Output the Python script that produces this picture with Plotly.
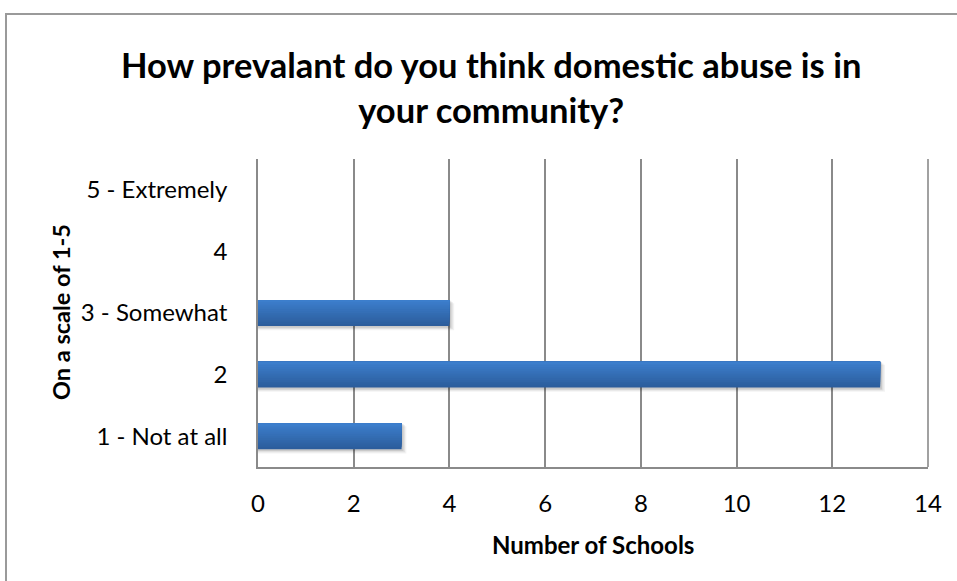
import plotly.graph_objects as go

# Survey responses: how prevalent domestic abuse is perceived to be
categories = ["1 - Not at all", "2", "3 - Somewhat", "4", "5 - Extremely"]
schools = [3, 13, 4, 0, 0]
x_ticks = [0, 2, 4, 6, 8, 10, 12, 14]

W, H = 957, 581
L, R, T, B = 258, 928, 159, 467  # plot area in pixels


def px(x):
    return (x - L) / (R - L)


def py(y):
    return (B - y) / (B - T)


FONT = "Lato"
GRID = "#8a8a8a"

fig = go.Figure()

# soft drop shadow under each bar
bar_w = 0.42
for k, a in enumerate([0.05, 0.07, 0.10]):
    grow = 0.10 - k * 0.03
    fig.add_trace(go.Bar(
        y=categories, x=[v + grow if v else 0 for v in schools], orientation="h",
        width=bar_w + 0.02, offset=-bar_w / 2 - 0.07 + k * 0.02,
        marker=dict(color=f"rgba(0,0,0,{a})", line=dict(width=0)),
        hoverinfo="skip", showlegend=False,
    ))

# bar body: stacked overlapping layers, lighter towards the top edge
top_rgb = (60, 126, 204)
bot_rgb = (44, 93, 156)
n = 14
step = bar_w / n
for i in range(n):
    t = i / (n - 1)
    c = tuple(round(bot_rgb[j] + (top_rgb[j] - bot_rgb[j]) * t) for j in range(3))
    fig.add_trace(go.Bar(
        y=categories, x=schools, orientation="h",
        width=bar_w - i * step, offset=-bar_w / 2 + i * step,
        marker=dict(color=f"rgb{c}", line=dict(width=0)),
        hoverinfo="skip", showlegend=False,
    ))

fig.update_layout(
    width=W, height=H,
    margin=dict(l=L, r=W - R, t=T, b=H - B),
    barmode="overlay",
    plot_bgcolor="white", paper_bgcolor="white",
    font=dict(family=FONT, color="#000000", size=24),
    showlegend=False,
    xaxis=dict(
        range=[0, 14], tickvals=x_ticks, ticks="",
        showgrid=True, gridcolor=GRID, gridwidth=1.6,
        showline=True, linecolor=GRID, linewidth=1.6,
        zeroline=False, tickfont=dict(size=24, family=FONT),
        ticklabelstandoff=14, fixedrange=True,
    ),
    yaxis=dict(
        type="category", categoryorder="array", categoryarray=categories,
        range=[-0.5, 4.5], ticks="", showgrid=False,
        showline=True, linecolor=GRID, linewidth=1.6,
        tickfont=dict(size=24, family=FONT),
        ticklabelstandoff=24, fixedrange=True,
    ),
    shapes=[
        # right edge of plot area
        dict(type="line", xref="paper", yref="paper", x0=1, x1=1, y0=0, y1=1,
             line=dict(color=GRID, width=1.6)),
        # chart frame (top and left edges)
        dict(type="line", xref="paper", yref="paper", x0=px(5), x1=px(960),
             y0=py(14), y1=py(14), line=dict(color="#9a9a9a", width=2)),
        dict(type="line", xref="paper", yref="paper", x0=px(6), x1=px(6),
             y0=py(14), y1=py(590), line=dict(color="#9a9a9a", width=2)),
    ],
    annotations=[
        dict(text="<b>How prevalant do you think domestic abuse is in<br>your community?</b>",
             xref="paper", yref="paper", x=px(491), y=py(87), xanchor="center", yanchor="middle",
             showarrow=False, font=dict(size=34.5, family=FONT), align="center"),
        dict(text="<b>Number of Schools</b>", xref="paper", yref="paper",
             x=0.5, y=py(544), xanchor="center", yanchor="middle",
             showarrow=False, font=dict(size=24, family=FONT)),
        dict(text="<b>On a scale of 1-5</b>", xref="paper", yref="paper",
             x=px(61), y=py(312), xanchor="center", yanchor="middle", textangle=-90,
             showarrow=False, font=dict(size=23.5, family=FONT)),
    ],
)

fig.write_html("out.html")
